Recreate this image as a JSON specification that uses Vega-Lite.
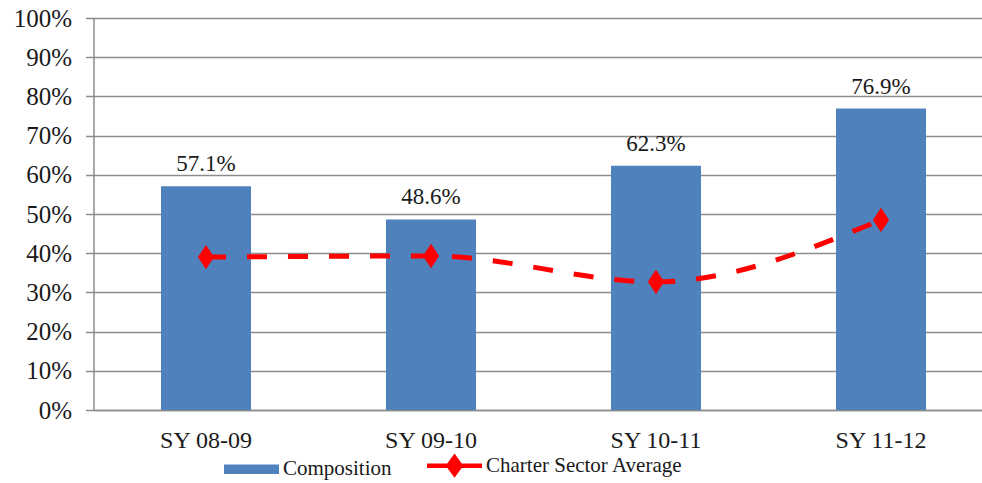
{
  "$schema": "https://vega.github.io/schema/vega-lite/v6.json",
  "autosize": "none",
  "width": 888,
  "height": 392,
  "padding": {"left": 93.5, "top": 18, "right": 0.5, "bottom": 73},
  "background": "white",
  "config": {
    "view": {"stroke": null},
    "font": "Liberation Serif",
    "axis": {"labelFont": "Liberation Serif", "labelColor": "#1a1a1a", "labelOverlap": false},
    "legend": {"labelFont": "Liberation Serif", "labelColor": "#1a1a1a"}
  },
  "data": {
    "values": [
      {"year": "SY 08-09", "composition": 0.571, "charter": 0.39},
      {"year": "SY 09-10", "composition": 0.486, "charter": 0.393},
      {"year": "SY 10-11", "composition": 0.623, "charter": 0.327},
      {"year": "SY 11-12", "composition": 0.769, "charter": 0.485}
    ]
  },
  "encoding": {
    "x": {
      "field": "year",
      "type": "nominal",
      "sort": null,
      "scale": {"range": [0, 900], "paddingInner": 0.6, "paddingOuter": 0.3},
      "axis": {
        "title": null,
        "labelAngle": 0,
        "labelFontSize": 24,
        "labelPadding": 18,
        "ticks": false,
        "domainColor": "#8c8c8c",
        "domainWidth": 1.5,
        "grid": false
      }
    },
    "y": {
      "field": "composition",
      "type": "quantitative",
      "scale": {"domain": [0, 1], "nice": false},
      "axis": {
        "title": null,
        "values": [0, 0.1, 0.2, 0.3, 0.4, 0.5, 0.6, 0.7, 0.8, 0.9, 1],
        "format": ".0%",
        "labelFontSize": 25,
        "labelOverlap": false,
        "labelPadding": 14,
        "tickSize": 8,
        "tickColor": "#8c8c8c",
        "tickWidth": 1.5,
        "domainColor": "#8c8c8c",
        "domainWidth": 1.5,
        "grid": true,
        "gridColor": "#8c8c8c",
        "gridWidth": 1.5
      }
    }
  },
  "layer": [
    {
      "mark": {"type": "bar", "fill": "#4F81BD"},
      "encoding": {
        "color": {
          "datum": "Composition",
          "type": "nominal",
          "scale": {"domain": ["Composition", "Charter Sector Average"], "range": ["#4F81BD", "#FF0000"]},
          "legend": {
            "title": null,
            "orient": "none",
            "direction": "horizontal",
            "legendX": 147.5,
            "legendY": 437,
            "labelFontSize": 21,
            "labelLimit": 0,
            "labelOffset": 21,
            "columnPadding": 26,
            "symbolSize": 3025,
            "encode": {
              "symbols": {
                "update": {
                  "shape": {"signal": "datum.value === 'Composition' ? 'M-1,-0.17H1V0.17H-1Z' : 'M-1,0H1M-0.22,0L0,-0.3L0.22,0L0,0.3Z'"},
                  "fill": {"signal": "datum.value === 'Composition' ? '#4F81BD' : '#FF0000'"},
                  "stroke": {"signal": "datum.value === 'Composition' ? '#4F81BD' : '#FF0000'"},
                  "strokeWidth": {"signal": "datum.value === 'Composition' ? 0 : 4.5"},
                  "strokeDash": {"value": []},
                  "opacity": {"value": 1},
                  "fillOpacity": {"value": 1},
                  "size": {"value": 3025}
                }
              }
            }
          }
        }
      }
    },
    {
      "mark": {"type": "text", "fontSize": 23, "baseline": "bottom", "dy": -10, "color": "#1a1a1a"},
      "encoding": {
        "text": {"field": "composition", "type": "quantitative", "format": ".1%"}
      }
    },
    {
      "mark": {"type": "line", "stroke": "#FF0000", "strokeWidth": 5, "strokeDash": [20, 21], "interpolate": "monotone"},
      "encoding": {
        "y": {"field": "charter", "type": "quantitative"},
        "color": {"datum": "Charter Sector Average", "type": "nominal"}
      }
    },
    {
      "mark": {"type": "point", "shape": "M0,-1.2L0.8,0L0,1.2L-0.8,0Z", "filled": true, "size": 300, "fill": "#FF0000", "stroke": "#FF0000", "strokeWidth": 2, "opacity": 1},
      "encoding": {
        "y": {"field": "charter", "type": "quantitative"}
      }
    }
  ]
}
